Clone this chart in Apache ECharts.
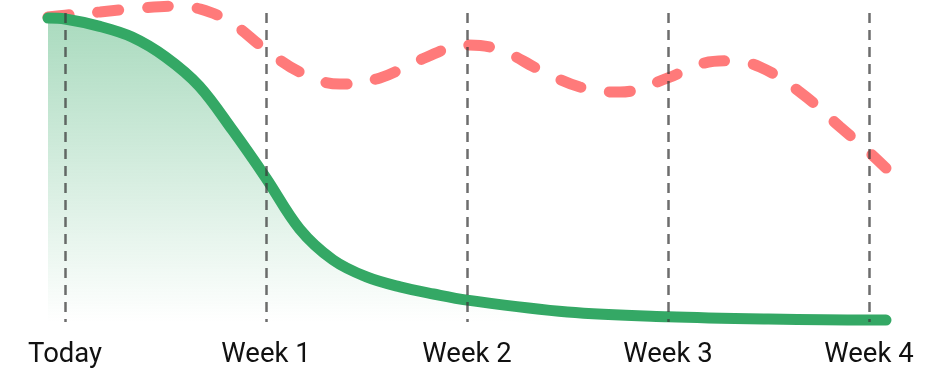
<!DOCTYPE html>
<html>
<head>
<meta charset="utf-8">
<script src="https://cdn.jsdelivr.net/npm/echarts@6.0.0/dist/echarts.min.js"></script>
<style>
    html, body { margin: 0; padding: 0; background: #fff; }
    #chart { width: 933px; height: 378px; }
</style>
</head>
<body>
<div id="chart"></div>
<script>
// x positions are in weeks from today
var tickWeeks = [0, 1, 2, 3, 4];
var tickLabels = ['Today', 'Week 1', 'Week 2', 'Week 3', 'Week 4'];

// green curve (solid)
var greenWeeks = [-0.085, 0, 0.167, 0.333, 0.5, 0.667, 0.833, 1.0, 1.167, 1.333, 1.5, 1.667, 1.833, 2.0, 2.5, 3.0, 3.5, 4.0, 4.085];
var greenValues = [94.4, 94.1, 91.9, 88.5, 82.3, 73.3, 59.6, 44.7, 28.9, 19.3, 14.0, 10.9, 8.7, 6.8, 3.1, 1.6, 0.9, 0.6, 0.6];

// red curve (dashed)
var redWeeks = [-0.085, 0, 0.174, 0.373, 0.547, 0.672, 0.821, 1.0, 1.169, 1.368, 1.567, 1.766, 2.0, 2.164, 2.363, 2.562, 2.761, 3.0, 3.159, 3.308, 3.458, 3.657, 3.856, 4.0, 4.085];
var redValues = [94.7, 95.3, 96.3, 97.5, 98.1, 97.2, 93.2, 84.5, 77.6, 73.9, 75.8, 81.4, 86.0, 84.5, 78.3, 73.0, 71.4, 75.8, 80.1, 81.1, 79.2, 71.4, 60.6, 52.8, 47.8];

function pairs(xs, ys) {
    var out = [];
    for (var i = 0; i < xs.length; i++) {
        out.push([xs[i], ys[i]]);
    }
    return out;
}

// vertical dashed guides at each label
function guideLines() {
    var out = [];
    for (var i = 0; i < tickWeeks.length; i++) {
        out.push([{ coord: [tickWeeks[i], 96] }, { coord: [tickWeeks[i], 0] }]);
    }
    return out;
}

var myChart = echarts.init(document.getElementById('chart'));
myChart.setOption({
    animation: false,
    grid: { left: 48, right: 47, top: 0, bottom: 56, containLabel: false, outerBoundsMode: 'none' },
    xAxis: {
        type: 'value',
        min: -0.085,
        max: 4.085,
        axisLine: { show: false },
        axisTick: { show: false },
        splitLine: { show: false },
        axisLabel: {
            customValues: tickWeeks,
            margin: 19,
            color: '#111',
            fontFamily: 'Roboto',
            fontSize: 27.5,
            formatter: function (v) {
                return tickLabels[tickWeeks.indexOf(v)];
            }
        }
    },
    yAxis: { type: 'value', min: 0, max: 100, show: false },
    series: [
        {
            type: 'line',
            data: pairs(redWeeks, redValues),
            smooth: 0.4,
            symbol: 'none',
            clip: false,
            lineStyle: { color: '#ff7a7a', width: 11, type: [21, 29], cap: 'round' }
        },
        {
            type: 'line',
            data: pairs(greenWeeks, greenValues),
            smooth: 0.35,
            symbol: 'none',
            clip: false,
            lineStyle: { color: '#34a865', width: 11, cap: 'round' },
            areaStyle: {
                color: new echarts.graphic.LinearGradient(0, 0, 0, 1, [
                    { offset: 0, color: 'rgba(52,168,101,0.6)' },
                    { offset: 1, color: 'rgba(52,168,101,0)' }
                ])
            },
            markLine: {
                silent: true,
                symbol: 'none',
                z: 10,
                label: { show: false },
                lineStyle: { color: 'rgba(60,60,60,0.75)', width: 2.5, type: [10, 7] },
                data: guideLines()
            }
        }
    ]
});
</script>
</body>
</html>
